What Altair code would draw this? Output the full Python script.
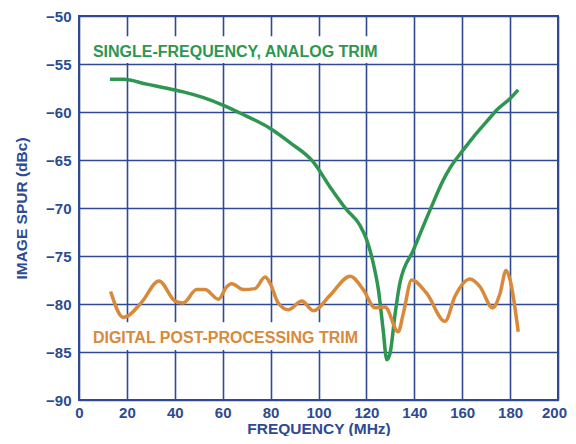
import altair as alt
import pandas as pd

# Single-frequency, analog trim (green)
analog_f = [12.9, 18.5, 28.3, 40.0, 43.5, 52.0, 60.3, 67.2, 79.7, 88.1, 97.8, 104.8, 111.8, 117.3,
            120.1, 122.9, 125.0, 127.0, 128.5, 129.9, 132.0, 134.0, 139.6, 146.6, 152.1, 155.0,
            160.3, 166.0, 171.6, 174.4, 180.0, 183.4]
analog_v = [-56.6, -56.6, -57.1, -57.7, -57.9, -58.5, -59.3, -60.1, -61.7, -63.2, -65.2, -67.8, -70.2, -71.8,
            -73.3, -75.8, -78.5, -82.7, -85.8, -85.1, -81.0, -77.8, -74.4, -70.2, -67.1, -65.8,
            -64.0, -62.2, -60.6, -59.8, -58.6, -57.7]

# Digital post-processing trim (orange)
digital_f = [13.2, 18.5, 20.0, 26.2, 33.4, 40.1, 43.5, 49.1, 52.6, 58.2, 61.7, 63.8, 68.6, 73.5, 77.7,
             79.7, 83.2, 87.4, 93.0, 97.8, 104.8, 113.2, 118.7, 123.6, 127.8, 133.3, 135.4, 138.9,
             145.2, 152.8, 157.0, 163.3, 167.4, 172.7, 175.8, 178.3, 180.0, 183.4]
digital_v = [-78.7, -81.4, -81.3, -79.8, -77.6, -79.7, -79.9, -78.5, -78.5, -79.5, -78.2, -77.9, -78.5, -78.4, -77.2,
             -77.8, -79.9, -80.6, -79.7, -80.7, -79.1, -77.1, -78.5, -80.4, -80.3, -82.9, -81.0, -77.5,
             -78.9, -81.8, -79.2, -77.4, -78.2, -80.4, -78.9, -76.5, -77.5, -82.9]

series_names = ["SINGLE-FREQUENCY, ANALOG TRIM", "DIGITAL POST-PROCESSING TRIM"]
series_colors = ["#2E9650", "#D9893A"]

x_ticks = [0, 20, 40, 60, 80, 100, 120, 140, 160, 180, 200]
y_ticks = [-90, -85, -80, -75, -70, -65, -60, -55, -50]

# annotation text anchors (data coords) and white label backgrounds
label_x = [5.8, 5.8]
label_y = [-53.75, -83.5]
box_x1 = [2.5, 2.5]
box_x2 = [129.8, 118.0]
box_y1 = [-52.1, -81.9]
box_y2 = [-54.9, -84.8]

GRID = "#2D4A92"
FONT = "Liberation Sans"

lines_df = pd.concat([
    pd.DataFrame({"f": analog_f, "v": analog_v, "s": series_names[0]}),
    pd.DataFrame({"f": digital_f, "v": digital_v, "s": series_names[1]}),
])
labels_df = pd.DataFrame({"x": label_x, "y": label_y, "t": series_names})
boxes_df = pd.DataFrame({"x1": box_x1, "x2": box_x2, "y1": box_y1, "y2": box_y2})

xs = alt.Scale(domain=[0, 200], nice=False)
ys = alt.Scale(domain=[-90, -50], nice=False)
cs = alt.Scale(domain=series_names, range=series_colors)

xaxis = alt.Axis(values=x_ticks, title="FREQUENCY (MHz)", labelPadding=5, titlePadding=1,
                 labelFlush=False, labelOverlap=False,
                 labelOffset={"condition": {"test": "datum.value == 200", "value": -4}, "value": 0})
yaxis = alt.Axis(values=y_ticks, title="IMAGE SPUR (dBc)", labelPadding=8, titlePadding=16,
                 labelFlush=False, labelOverlap=False)

boxes = alt.Chart(boxes_df).mark_rect(color="white").encode(
    x=alt.X("x1:Q", scale=xs, axis=xaxis),
    x2="x2",
    y=alt.Y("y1:Q", scale=ys, axis=yaxis),
    y2="y2",
)

lines = alt.Chart(lines_df).mark_line(strokeWidth=3.5, interpolate="monotone").encode(
    x=alt.X("f:Q", scale=xs, axis=xaxis),
    y=alt.Y("v:Q", scale=ys, axis=yaxis),
    color=alt.Color("s:N", scale=cs, legend=None),
    detail="s:N",
)

texts = alt.Chart(labels_df).mark_text(
    align="left", baseline="middle", font=FONT, fontWeight="bold", fontSize=16
).encode(
    x=alt.X("x:Q", scale=xs, axis=xaxis),
    y=alt.Y("y:Q", scale=ys, axis=yaxis),
    text="t:N",
    color=alt.Color("t:N", scale=cs, legend=None),
)

chart = alt.layer(boxes, lines, texts).properties(
    width=479,
    height=384,
    autosize=alt.AutoSizeParams(type="none"),
    padding={"left": 71, "top": 8, "right": 10, "bottom": 36},
    background="white",
).configure_view(
    stroke=GRID, strokeWidth=2
).configure_axis(
    grid=True, gridColor=GRID, gridWidth=1.6, gridOpacity=1,
    domain=False, ticks=False,
    labelFont=FONT, labelFontWeight="bold", labelFontSize=15, labelColor=GRID,
    titleFont=FONT, titleFontWeight="bold", titleFontSize=15.5, titleColor=GRID,
)

chart.save("out.html", embed_options={"renderer": "svg", "actions": False})
